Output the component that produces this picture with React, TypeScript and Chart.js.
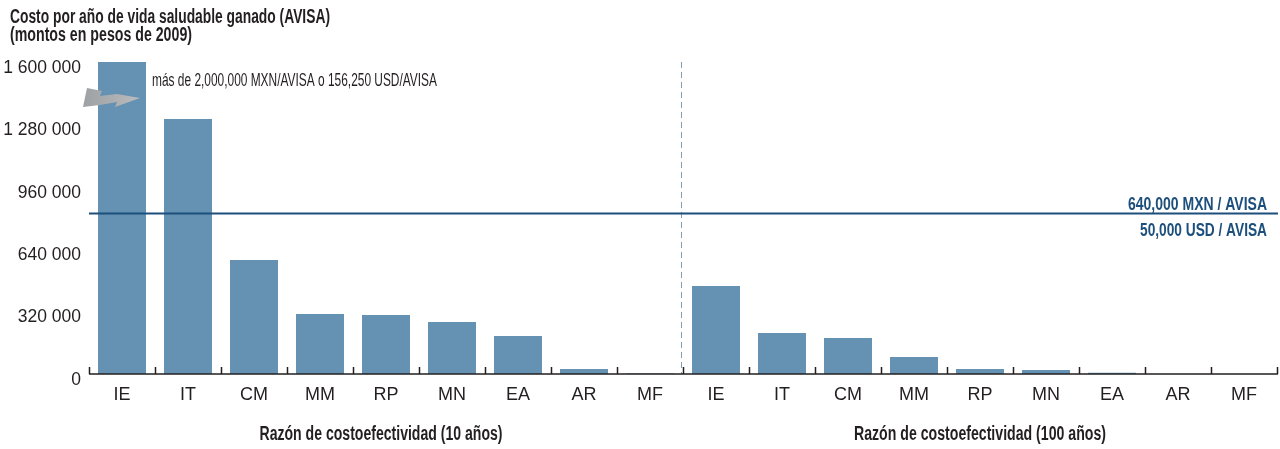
import React, { useEffect, useRef } from "react";
import { Chart, registerables } from "chart.js";

Chart.register(...registerables);

const categories = ["IE", "IT", "CM", "MM", "RP", "MN", "EA", "AR", "MF"];
const values10yr = [2000000, 1308000, 585000, 308000, 303000, 267000, 195000, 26000, 2000];
const values100yr = [451000, 210000, 185000, 87000, 26000, 20000, 7000, 0, 0];
const yTickValues = [0, 320000, 640000, 960000, 1280000, 1600000];
const thresholdValue = 826000;

const titleLines = ["Costo por año de vida saludable ganado (AVISA)", "(montos en pesos de 2009)"];
const groupTitles = ["Razón de costoefectividad (10 años)", "Razón de costoefectividad (100 años)"];
const thresholdLabels = ["640,000 MXN / AVISA", "50,000 USD / AVISA"];
const overflowNote = "más de 2,000,000 MXN/AVISA o 156,250 USD/AVISA";

const BAR = "#6591b3";
const DARK = "#231f20";
const NAVY = "#1d4f7c";
const CONDENSED = '"Liberation Sans Narrow", "Liberation Sans", Arial, sans-serif';
const SANS = '"Liberation Sans", Arial, sans-serif';

const fmt = (v: number) => String(v).replace(/\B(?=(\d{3})+(?!\d))/g, " ");

const decorPlugin = {
  id: "decor",
  beforeDatasetsDraw(chart: any) {
    const { ctx, chartArea } = chart;
    const n = chart.data.labels.length;
    const cw = (chartArea.right - chartArea.left) / n;
    const dx = chartArea.left + categories.length * cw;
    ctx.save();
    ctx.strokeStyle = "#7f9cb8";
    ctx.lineWidth = 1;
    ctx.setLineDash([6, 4]);
    ctx.beginPath();
    ctx.moveTo(Math.round(dx) - 1.5, chartArea.top);
    ctx.lineTo(Math.round(dx) - 1.5, chartArea.bottom);
    ctx.stroke();
    ctx.restore();
  },
  afterDatasetsDraw(chart: any) {
    const { ctx, chartArea, scales } = chart;
    const x = scales.x;
    const y = scales.y;
    const n = chart.data.labels.length;
    const cw = (chartArea.right - chartArea.left) / n;
    ctx.save();

    // x axis line and upward tick marks
    ctx.strokeStyle = DARK;
    ctx.lineWidth = 1.5;
    ctx.beginPath();
    ctx.moveTo(chartArea.left, chartArea.bottom);
    ctx.lineTo(chartArea.right + 1, chartArea.bottom);
    for (let i = 0; i <= n; i++) {
      const px = Math.round(chartArea.left + i * cw) + 0.5;
      ctx.moveTo(px, chartArea.bottom);
      ctx.lineTo(px, chartArea.bottom - 7);
    }
    ctx.stroke();

    // threshold line
    const ty = Math.round(y.getPixelForValue(thresholdValue)) + 0.5;
    ctx.strokeStyle = NAVY;
    ctx.lineWidth = 2;
    ctx.beginPath();
    ctx.moveTo(chartArea.left, ty);
    ctx.lineTo(chartArea.right + 1, ty);
    ctx.stroke();
    ctx.fillStyle = NAVY;
    ctx.textAlign = "right";
    ctx.textBaseline = "alphabetic";
    ctx.font = `bold 19px ${CONDENSED}`;
    ctx.fillText(thresholdLabels[0], chartArea.right - 10, ty - 4, 139);
    ctx.fillText(thresholdLabels[1], chartArea.right - 10, ty + 22, 127);

    // overflow arrow
    const ax = x.getPixelForValue(0);
    const ay = y.getPixelForValue(1600000);
    const pts = [
      [-39, 45], [-35, 26], [-20, 29], [-22, 34], [-5, 32], [18, 36], [-7, 45], [-5, 40], [-22, 43],
    ];
    const grad = ctx.createLinearGradient(ax - 39, 0, ax + 18, 0);
    grad.addColorStop(0, "#9ea1a3");
    grad.addColorStop(1, "#b9bbbd");
    ctx.fillStyle = grad;
    ctx.beginPath();
    pts.forEach(([px, py], i) => {
      if (i === 0) ctx.moveTo(ax + px, ay + py);
      else ctx.lineTo(ax + px, ay + py);
    });
    ctx.closePath();
    ctx.fill();

    // overflow note
    ctx.fillStyle = DARK;
    ctx.textAlign = "left";
    ctx.font = `19px ${CONDENSED}`;
    ctx.fillText(overflowNote, ax + 30, ay + 24, 285);

    // titles
    ctx.font = `bold 20px ${CONDENSED}`;
    ctx.fillText(titleLines[0], 10, 23, 320);
    ctx.fillText(titleLines[1], 10, 41, 182);

    // group titles
    ctx.textAlign = "center";
    const half = categories.length;
    const c1 = chartArea.left + (half / 2) * cw - 5;
    const c2 = chartArea.left + (half + half / 2) * cw;
    ctx.fillText(groupTitles[0], c1, 440, 243);
    ctx.fillText(groupTitles[1], c2, 440, 252);

    ctx.restore();
  },
};

export default function App() {
  const ref = useRef<HTMLCanvasElement | null>(null);
  useEffect(() => {
    if (!ref.current) return;
    const chart = new Chart(ref.current, {
      type: "bar",
      data: {
        labels: [...categories, ...categories],
        datasets: [
          {
            data: [...values10yr, ...values100yr],
            backgroundColor: BAR,
            borderWidth: 0,
            categoryPercentage: 1,
            barPercentage: 0.727,
          },
        ],
      },
      options: {
        responsive: true,
        maintainAspectRatio: false,
        animation: false,
        layout: { padding: { top: 62, right: 3, left: 0, bottom: 0 } },
        plugins: { legend: { display: false }, tooltip: { enabled: false } },
        scales: {
          x: {
            grid: { display: false, drawTicks: false },
            border: { display: false },
            ticks: {
              color: DARK,
              font: { family: SANS, size: 18 },
              padding: 10,
              maxRotation: 0,
              autoSkip: false,
            },
            afterFit: (s: any) => {
              s.height = 75;
            },
          },
          y: {
            min: 0,
            max: 1600000,
            grid: { display: false, drawTicks: false },
            border: { display: false },
            afterBuildTicks: (s: any) => {
              s.ticks = yTickValues.map((v) => ({ value: v }));
            },
            ticks: {
              color: DARK,
              font: { family: SANS, size: 17.5 },
              padding: 8,
              labelOffset: 6,
              callback: (v: any) => fmt(Number(v)),
            },
            afterFit: (s: any) => {
              s.width = 89;
            },
          },
        },
      },
      plugins: [decorPlugin],
    });
    return () => chart.destroy();
  }, []);
  return (
    <div style={{ position: "absolute", left: 0, top: 0, width: 1280, height: 449, background: "#fff" }}>
      <canvas ref={ref} />
    </div>
  );
}
